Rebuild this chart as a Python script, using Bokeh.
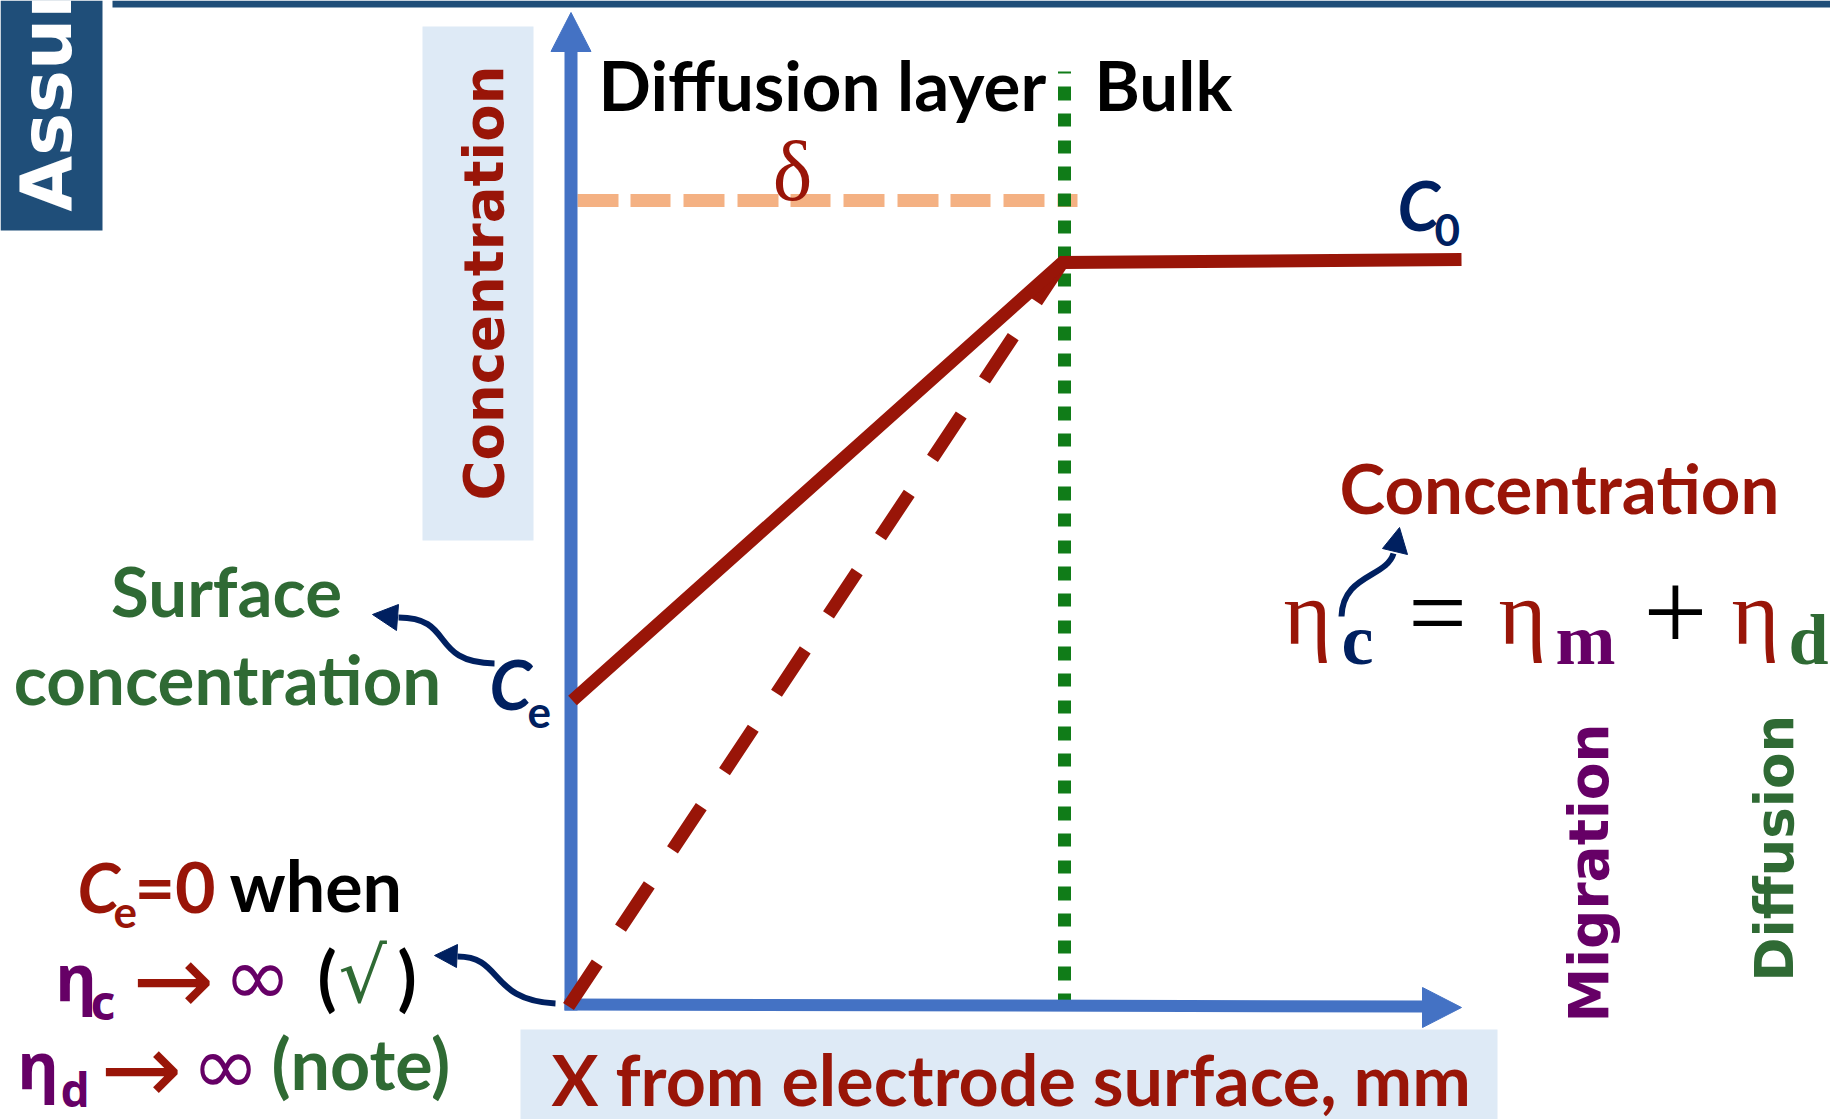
import math
from bokeh.plotting import figure
from bokeh.models import Range1d
from bokeh.core.properties import value
from bokeh.embed import file_html
from bokeh.resources import INLINE

# ---------------- data (canvas units of the 1830 x 1119 slide) ----------------
# concentration profile: surface (Ce) -> edge of diffusion layer -> bulk (C0)
profile_x = [572, 1062, 1461]
profile_y = [700, 262, 259]
# limiting profile (Ce = 0)
limit_x = [568, 1062]
limit_y = [1006, 262]
# diffusion-layer thickness delta
delta_x = [577, 1077]
delta_y = [200, 200]
layer_x = [1064, 1064]
layer_y = [71, 1006]
# axes
yaxis_x = [570.5, 570.5]
yaxis_y = [1010, 50]
xaxis_x = [564, 1423]
xaxis_y = [1004, 1006]
axis_heads_x = [[570.5, 550.5, 590.5], [1461, 1422, 1422]]
axis_heads_y = [[12, 51, 51], [1007, 987, 1027]]
# curved call-out arrows (cubic bezier) and their heads
curve_x0 = [494, 555, 1341]
curve_y0 = [663, 1003, 616]
curve_cx0 = [428, 488, 1342]
curve_cy0 = [662, 1000, 574]
curve_cx1 = [455, 503, 1386]
curve_cy1 = [617, 956, 577]
curve_x1 = [398, 457, 1393]
curve_y1 = [617, 956, 553]
curve_heads_x = [[372, 398, 396], [434, 457, 456], [1399, 1382, 1407]]
curve_heads_y = [[614, 604, 630], [955, 944, 967], [527, 548, 554]]

RED = "#991508"
NAVY = "#002060"
GREEN = "#2F6A34"
PURPLE = "#660066"
BLUE = "#4472C4"
LIGHT = "#DEEAF6"

W, H = 1830, 1119
p = figure(width=W, height=H, x_range=Range1d(0, W), y_range=Range1d(H, 0),
           x_axis_type=None, y_axis_type=None, toolbar_location=None, output_backend="svg",
           min_border=0, outline_line_color=None,
           background_fill_color="white", border_fill_color="white")
p.grid.visible = False

K = 0.37  # baseline correction (fraction of font size)


def txt(x, y, s, size, color, font="Lato", style="bold", align="left", angle=0.0):
    if angle == 0.0:
        y = y - K * size
    else:
        x = x - K * size
    p.text(x=[x], y=[y], text=[s], text_font=value(font), text_font_size=f"{size}px",
           text_font_style=style, text_color=color, text_align=align,
           text_baseline="alphabetic", angle=angle)


# header decoration
p.quad(left=[112], right=[W], top=[0], bottom=[7], fill_color="#1F4E79", line_color=None)
p.quad(left=[0], right=[102], top=[0], bottom=[230], fill_color="#1F4E79", line_color=None)
txt(72, 211, "Assur", 72, "white", font="DejaVu Sans", angle=math.pi / 2)

# light label boxes
p.quad(left=[422], right=[533], top=[26], bottom=[540], fill_color=LIGHT, line_color=None)
p.quad(left=[520], right=[1497], top=[1029], bottom=[H], fill_color=LIGHT, line_color=None)

# delta dashed line and layer boundary
p.line(delta_x, delta_y, line_width=13, line_color="#F4B183", line_dash="41 12 40 13 41 13")
p.line(layer_x, layer_y, line_width=13, line_color="#107C18",
       line_dash="13 13 14 13 13 14", line_dash_offset=11)

# axes
p.line(yaxis_x, yaxis_y, line_width=13, line_color=BLUE)
p.line(xaxis_x, xaxis_y, line_width=12, line_color=BLUE)
p.patches(axis_heads_x, axis_heads_y, fill_color=BLUE, line_color=BLUE)

# concentration profiles
p.line(limit_x, limit_y, line_width=13, line_color=RED, line_dash="52 42")
p.line(profile_x, profile_y, line_width=13, line_color=RED, line_join="miter")

# call-out arrows
p.bezier(x0=curve_x0, y0=curve_y0, x1=curve_x1, y1=curve_y1,
         cx0=curve_cx0, cy0=curve_cy0, cx1=curve_cx1, cy1=curve_cy1,
         line_width=6, line_color=NAVY)
p.patches(curve_heads_x, curve_heads_y, fill_color=NAVY, line_color=NAVY)

# rotated labels
txt(504, 500, "Concentration", 54.5, RED, font="DejaVu Sans", angle=math.pi / 2)
txt(1609, 1022, "Migration", 55, PURPLE, font="DejaVu Sans", angle=math.pi / 2)
txt(1794, 981, "Diffusion", 53, GREEN, font="DejaVu Sans", angle=math.pi / 2)

# top labels
txt(598, 110, "Diffusion layer", 69, "black")
txt(1094, 110, "Bulk", 69, "black")
txt(792, 202, "δ", 84, RED, font="Liberation Serif", style="normal", align="center")

# C0 and Ce
txt(1397, 229, "C", 68, NAVY, style="bold italic")
txt(1434, 246, "0", 44, NAVY)
txt(489, 708, "C", 68, NAVY, style="bold italic")
txt(527, 728, "e", 44, NAVY)

# surface concentration
txt(226, 616, "Surface", 69, GREEN, align="center")
txt(227, 704, "concentration", 69, GREEN, align="center")

# right-hand equation
txt(1339, 513, "Concentration", 69, RED)
SER = "Liberation Serif"
txt(1307, 647, "η", 92, RED, font=SER, style="normal", align="center")
txt(1357, 666, "c", 72, NAVY, font=SER, style="bold", align="center")
txt(1437, 650, "=", 104, "black", font=SER, style="normal", align="center")
txt(1522, 647, "η", 92, RED, font=SER, style="normal", align="center")
txt(1585, 666, "m", 72, PURPLE, font=SER, style="bold", align="center")
txt(1675, 654, "+", 114, "black", font=SER, style="normal", align="center")
txt(1755, 647, "η", 92, RED, font=SER, style="normal", align="center")
txt(1808, 666, "d", 72, GREEN, font=SER, style="bold", align="center")

# x-axis label
txt(551, 1104, "X from electrode surface, mm", 70, RED)

# bottom-left notes
txt(77, 911, "C", 68, RED, style="bold italic")
txt(113, 928, "e", 44, RED)
txt(134, 911, "=0", 70, RED)
txt(229, 910, "when", 70, "black")

txt(55, 1000, "η", 64, PURPLE, font="Noto Sans", style="bold")
txt(90, 1019, "c", 48, PURPLE, font="Noto Sans", style="bold")
txt(132, 1016, "→", 98, RED, font="DejaVu Sans", style="normal")
txt(223, 1006, "∞", 82, PURPLE, font="DejaVu Sans", style="normal")
txt(317, 1001, "(", 70, "black")
txt(338, 1003, "√", 76, GREEN, font="DejaVu Sans", style="normal")
txt(397, 1001, ")", 70, "black")

txt(17, 1088, "η", 64, PURPLE, font="Noto Sans", style="bold")
txt(60, 1106, "d", 46, PURPLE, font="Noto Sans", style="bold")
txt(100, 1105, "→", 98, RED, font="DejaVu Sans", style="normal")
txt(191, 1095, "∞", 82, PURPLE, font="DejaVu Sans", style="normal")
txt(271, 1088, "(note)", 70, GREEN)

open("out.html", "w").write(file_html(p, INLINE))
